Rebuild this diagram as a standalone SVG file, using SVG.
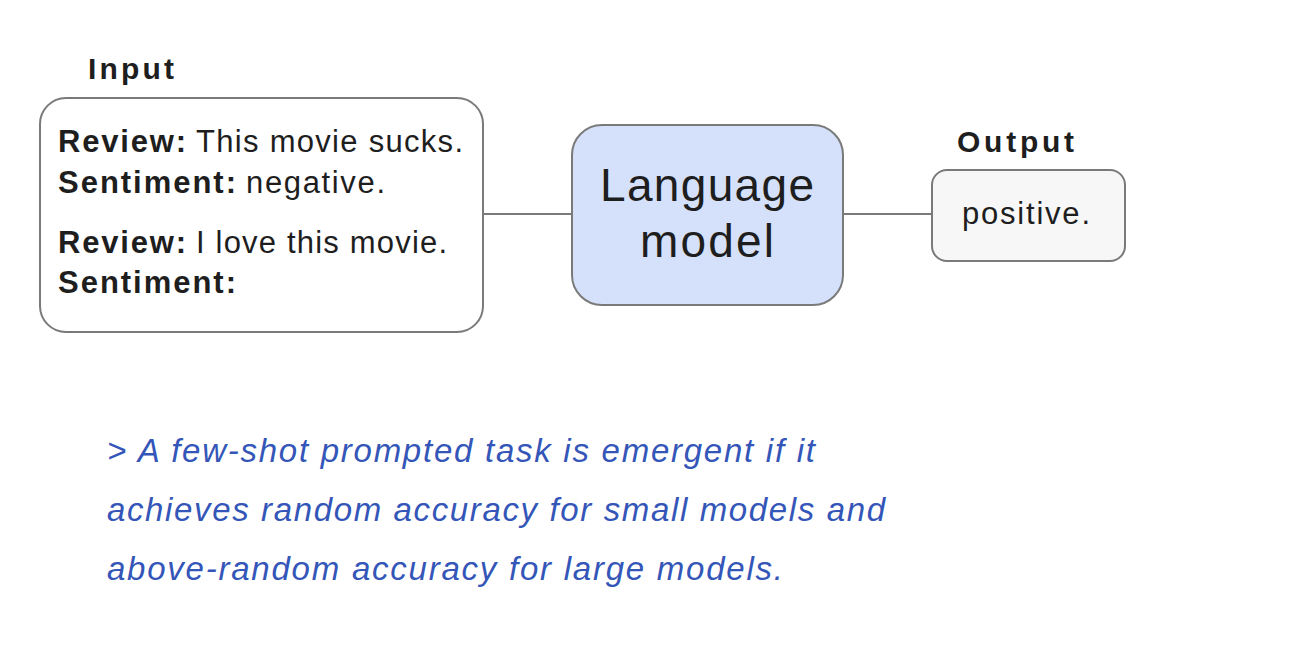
<svg xmlns="http://www.w3.org/2000/svg" width="1289" height="655" viewBox="0 0 1289 655">
<style>
.t{font-family:"Liberation Sans",Arial,sans-serif;fill:#1e1e1e}
.b{font-weight:bold}
.box{stroke:#7a7a7a;stroke-width:2}
.conn{stroke:#7a7a7a;stroke-width:2;fill:none}
.q{font-family:"Liberation Sans",Arial,sans-serif;font-style:italic;fill:#3456b8;font-size:33px}
</style>
<rect width="1289" height="655" fill="#ffffff"/>
<g id="connectors">
<line class="conn" x1="483" y1="214" x2="572" y2="214"/>
<line class="conn" x1="843" y1="214" x2="932" y2="214"/>
</g>
<g id="input">
<text class="t b" x="88" y="79" font-size="30" textLength="86">Input</text>
<rect class="box" x="40" y="98" width="443" height="234" rx="26" fill="#ffffff"/>
<text class="t" font-size="31" y="152"><tspan class="b" x="58" textLength="128">Review:</tspan><tspan x="196" textLength="267">This movie sucks.</tspan></text>
<text class="t" font-size="31" y="193"><tspan class="b" x="58" textLength="178">Sentiment:</tspan><tspan x="246" textLength="139">negative.</tspan></text>
<text class="t" font-size="31" y="253"><tspan class="b" x="58" textLength="128">Review:</tspan><tspan x="196" textLength="251">I love this movie.</tspan></text>
<text class="t b" font-size="31" x="58" y="293" textLength="178">Sentiment:</text>
</g>
<g id="language-model">
<rect class="box" x="572" y="125" width="271" height="180" rx="30" fill="#d5e1fb"/>
<text class="t" font-size="46" x="707" y="201" text-anchor="middle" textLength="214">Language</text>
<text class="t" font-size="46" x="707" y="257" text-anchor="middle" textLength="134">model</text>
</g>
<g id="output">
<text class="t b" x="957" y="152" font-size="30" textLength="117">Output</text>
<rect class="box" x="932" y="170" width="193" height="91" rx="15" fill="#f7f7f7"/>
<text class="t" font-size="31" x="1026" y="224" text-anchor="middle" textLength="128">positive.</text>
</g>
<g id="quote">
<text class="q" x="107" y="462" textLength="708">&gt; A few-shot prompted task is emergent if it</text>
<text class="q" x="107" y="521" textLength="778">achieves random accuracy for small models and</text>
<text class="q" x="107" y="580" textLength="676">above-random accuracy for large models.</text>
</g>
</svg>
